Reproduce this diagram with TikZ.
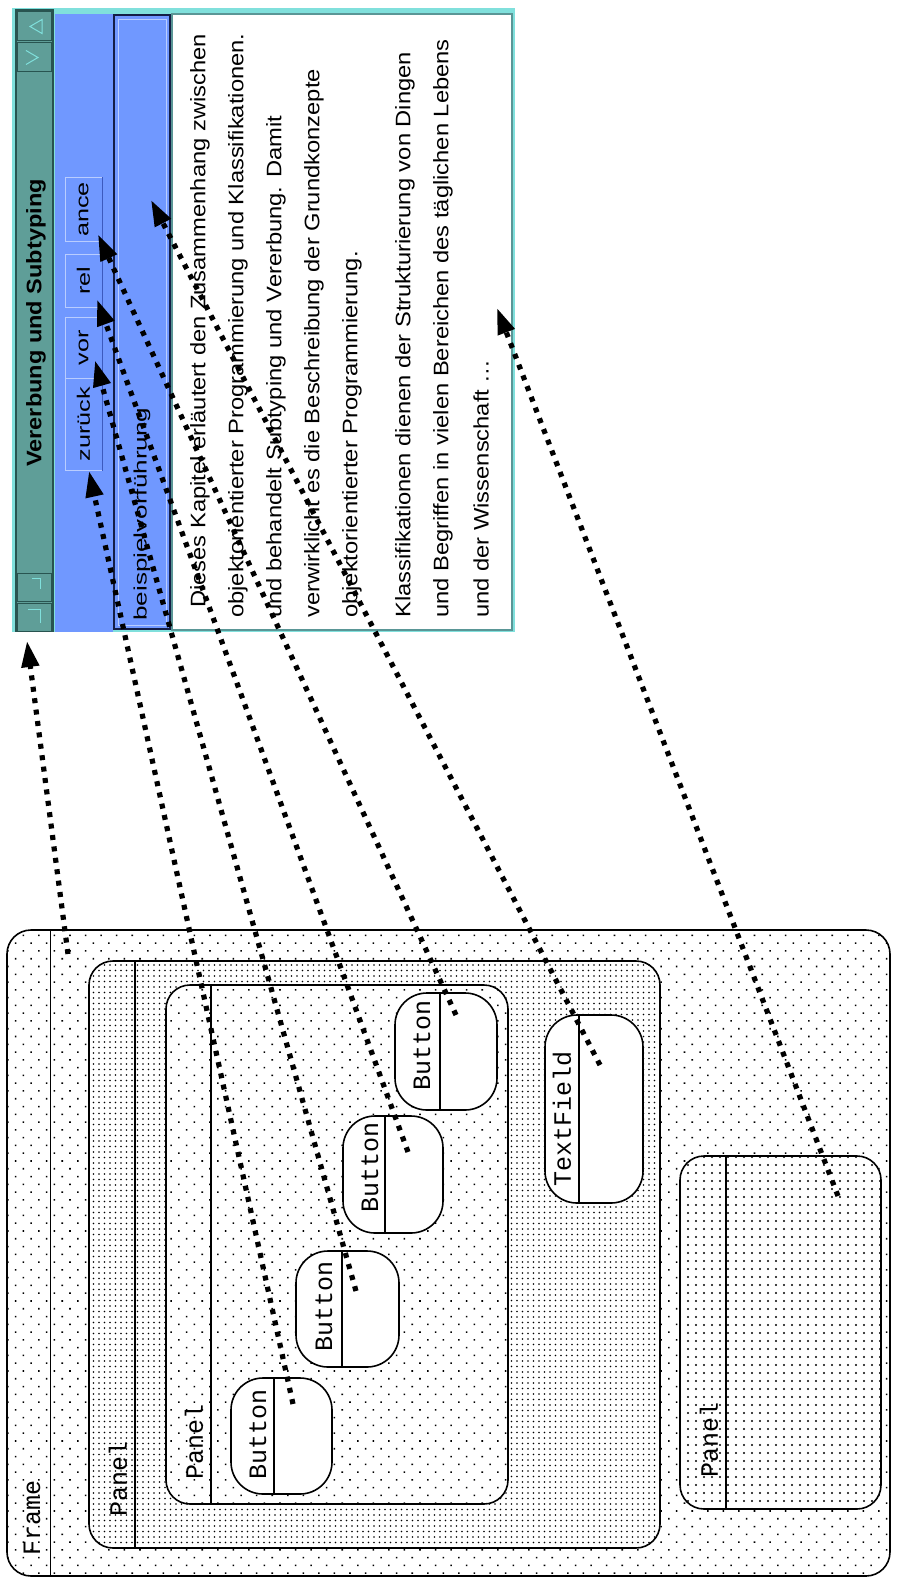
\documentclass[tikz,border=0pt]{standalone}
\usepackage{fontspec}
\setmainfont{Liberation Sans}
\setmonofont{Liberation Mono}
\usepackage{tikz}
\usetikzlibrary{arrows.meta, patterns.meta, positioning, calc}
\definecolor{colWinEdge}{RGB}{128,224,220}
\definecolor{colTitle}{RGB}{95,158,152}
\definecolor{colTitleDark}{RGB}{40,84,80}
\definecolor{colBlue}{RGB}{112,152,255}
\definecolor{colBtnLight}{RGB}{185,205,255}
\definecolor{colBtnDark}{RGB}{60,90,190}
\definecolor{colEdgeDark}{RGB}{20,30,70}
\definecolor{colAreaEdge}{RGB}{90,150,150}
\newcommand{\widetext}[2]{\scalebox{#1}[1]{#2}}
\tikzset{
  winpart/.style={
    rectangle, inner sep=0pt, outer sep=0pt, anchor=north west
  },
  winicon/.style={
    winpart, draw=colTitleDark, fill=colTitle, line width=1pt,
    minimum width=34pt
  },
  navbtn/.style={
    rectangle, rotate=90, draw=colBtnLight, line width=1pt,
    inner sep=0pt, minimum height=37pt,
    font=\fontsize{18}{18}\selectfont
  },
  para/.style={
    rotate=90, anchor=west, inner sep=0pt,
    font=\fontsize{21}{21}\selectfont
  },
  comp/.style={
    draw, line width=1.6pt, rounded corners=24pt, inner sep=0pt,
    outer sep=0pt, anchor=north west, preaction={fill=white}
  },
  compbtn/.style={
    comp, rounded corners=32pt, fill=white
  },
  sparsedots/.style={
    pattern={Dots[distance=11pt, angle=45, radius=1.1pt]}
  },
  densedots/.style={
    pattern={Dots[distance=5.5pt, radius=0.95pt]}
  },
  meddots/.style={
    pattern={Dots[distance=8pt, radius=1.05pt]}
  },
  strip/.style={line width=1.4pt},
  compname/.style={
    rotate=90, anchor=west, inner sep=0pt,
    font=\ttfamily\fontsize{25}{25}\selectfont
  },
  maps/.style={
    line width=5.2pt, dash pattern=on 5pt off 6.5pt,
    -{Triangle[length=26pt, width=17pt]}
  },
}

\begin{document}
\begin{tikzpicture}[x=1pt, y=-1pt]
\useasboundingbox (0,0) rectangle (900,1581);

% ── Window ──────────────────────────────────────────────────────────────
\node[winpart, fill=colWinEdge, minimum width=503pt, minimum height=624pt] (win) at (12,8) {};
\node[winpart, fill=colTitle, draw=colTitleDark, line width=1.2pt,
      minimum width=37pt, minimum height=621pt] (titlebar) at (16,10) {};

% title bar buttons
\node[winicon, minimum height=29pt] (icoMin) at (17,12) {};
\node[winicon, minimum height=29pt] (icoMax) at (17,43) {};
\node[winicon, minimum height=28pt] (icoA) at (17,573) {};
\node[winicon, minimum height=28pt] (icoB) at (17,603) {};
\draw[colWinEdge, line width=1pt] ($(icoMin.center)+(8,-7)$) -- ($(icoMin.center)+(-4,0)$) -- ($(icoMin.center)+(8,7)$) -- cycle;
\draw[colWinEdge, line width=1pt] ($(icoMax.center)+(-8,-7)$) -- ($(icoMax.center)+(4,0)$) -- ($(icoMax.center)+(-8,7)$);
\draw[colWinEdge, line width=1pt] ($(icoA.center)+(-2,-9)$) -- ($(icoA.center)+(6,-9)$) -- ($(icoA.center)+(6,2)$);
\draw[colWinEdge, line width=1pt] ($(icoB.center)+(-6,-8)$) -- ($(icoB.center)+(6,-8)$) -- ($(icoB.center)+(6,6)$);

\node[rotate=90, font=\bfseries\fontsize{21}{21}\selectfont] (wintitle) at (36,323) {\widetext{1.12}{Vererbung und Subtyping}};

% navigation panel
\node[winpart, fill=colBlue, minimum width=58pt, minimum height=618pt] (navpanel) at (55,14) {};
\node[navbtn, minimum width=92pt] (bZur)  at (83.5,424)   {\widetext{1.4}{zurück}};
\node[navbtn, minimum width=61pt] (bVor)  at (83.5,347.5) {\widetext{1.4}{vor}};
\node[navbtn, minimum width=53pt] (bRel)  at (83.5,280.5) {\widetext{1.4}{rel}};
\node[navbtn, minimum width=63pt] (bAnce) at (83.5,209.5) {\widetext{1.4}{ance}};
\draw[colBtnDark, line width=1pt] (bZur.south west) -- (bZur.south east);
\draw[colBtnDark, line width=1pt] (bVor.south west) -- (bVor.south east);
\draw[colBtnDark, line width=1pt] (bRel.south west) -- (bRel.south east);
\draw[colBtnDark, line width=1pt] (bAnce.south west) -- (bAnce.south east);

% short text field
\node[winpart, fill=colBlue, draw=colEdgeDark, line width=2.6pt,
      minimum width=56pt, minimum height=614pt] (shortfield) at (114,15) {};
\draw[colBtnLight, line width=0.8pt] ($(shortfield.north west)+(4,4)$) rectangle ($(shortfield.south east)+(-4,-4)$);
\node[rotate=90, anchor=west, inner sep=0pt, font=\fontsize{18}{18}\selectfont] (shortlabel) at (142,621) {\widetext{1.45}{beispielvorführung}};

% text area
\node[winpart, fill=white, draw=colAreaEdge, line width=1.2pt,
      minimum width=340pt, minimum height=616pt] (textarea) at (172,14) {};
\node[para] (line1) at (200,608) {\widetext{1.13}{Dieses Kapitel erläutert den Zusammenhang zwischen}};
\node[para] (line2) at (238,618) {\widetext{1.13}{objektorientierter Programmierung und Klassifikationen.}};
\node[para] (line3) at (276,618) {\widetext{1.13}{und behandelt Subtyping und Vererbung. Damit}};
\node[para] (line4) at (314,618) {\widetext{1.13}{verwirklicht es die Beschreibung der Grundkonzepte}};
\node[para] (line5) at (352,618) {\widetext{1.13}{objektorientierter Programmierung.}};
\node[para] (line6) at (405,618) {\widetext{1.13}{Klassifikationen dienen der Strukturierung von Dingen}};
\node[para] (line7) at (443,618) {\widetext{1.13}{und Begriffen in vielen Bereichen des täglichen Lebens}};
\node[para] (line8) at (481,618) {\widetext{1.13}{und der Wissenschaft \dots}};

% ── Component tree ──────────────────────────────────────────────────────
\node[comp, sparsedots, minimum width=883pt, minimum height=646pt] (frame) at (7,930) {};
\draw[strip] ($(frame.north west)+(43.5,0)$) -- ($(frame.south west)+(43.5,0)$);
\node[compname] (frameName) at ($(frame.south west)+(25,-20)$) {Frame};

\node[comp, densedots, minimum width=571pt, minimum height=587pt] (outerPanel) at (89,961) {};
\draw[strip] ($(outerPanel.north west)+(46,0)$) -- ($(outerPanel.south west)+(46,0)$);
\node[compname] (outerName) at ($(outerPanel.south west)+(29,-31)$) {Panel};

\node[comp, sparsedots, minimum width=342pt, minimum height=519pt] (innerPanel) at (166,985) {};
\draw[strip] ($(innerPanel.north west)+(45,0)$) -- ($(innerPanel.south west)+(45,0)$);
\node[compname] (innerName) at ($(innerPanel.south west)+(28,-24)$) {Panel};

\node[compbtn, minimum width=101pt, minimum height=116pt] (btnA) at (231,1378) {};
\draw[strip] ($(btnA.north west)+(43,0)$) -- ($(btnA.south west)+(43,0)$);
\node[compname] (btnAName) at ($(btnA.south west)+(27,-14)$) {Button};

\node[compbtn, minimum width=103pt, minimum height=116pt] (btnB) at (296,1251) {};
\draw[strip] ($(btnB.north west)+(46,0)$) -- ($(btnB.south west)+(46,0)$);
\node[compname] (btnBName) at ($(btnB.south west)+(28,-15)$) {Button};

\node[compbtn, minimum width=100pt, minimum height=117pt] (btnC) at (343,1116) {};
\draw[strip] ($(btnC.north west)+(42,0)$) -- ($(btnC.south west)+(42,0)$);
\node[compname] (btnCName) at ($(btnC.south west)+(27,-20)$) {Button};

\node[compbtn, minimum width=102pt, minimum height=117pt] (btnD) at (395,993) {};
\draw[strip] ($(btnD.north west)+(45,0)$) -- ($(btnD.south west)+(45,0)$);
\node[compname] (btnDName) at ($(btnD.south west)+(27,-19)$) {Button};

\node[compbtn, minimum width=98pt, minimum height=188pt] (textField) at (545,1015) {};
\draw[strip] ($(textField.north west)+(34,0)$) -- ($(textField.south west)+(34,0)$);
\node[compname] (textFieldName) at ($(textField.south west)+(17,-16)$) {TextField};

\node[comp, meddots, minimum width=201pt, minimum height=353pt] (rightPanel) at (680,1156) {};
\draw[strip] ($(rightPanel.north west)+(46,0)$) -- ($(rightPanel.south west)+(46,0)$);
\node[compname] (rightName) at ($(rightPanel.south west)+(29,-31)$) {Panel};

% ── Mapping arrows ──────────────────────────────────────────────────────
\coordinate (tFrame) at ($(frame.north west)+(61,24)$);
\coordinate (tBtnA)  at ($(btnA.north west)+(62,26)$);
\coordinate (tBtnB)  at ($(btnB.north west)+(60,40)$);
\coordinate (tBtnC)  at ($(btnC.north west)+(65,36)$);
\coordinate (tBtnD)  at ($(btnD.north west)+(61,22)$);
\coordinate (tField) at ($(textField.north west)+(55,50)$);
\coordinate (tPanel) at ($(rightPanel.north west)+(158,40)$);

\coordinate (hFrame) at ($(titlebar.south west)+(11,10)$);
\coordinate (hZur)   at ($(bZur.center)+(5.5,47)$);
\coordinate (hVor)   at ($(bVor.center)+(11.5,13)$);
\coordinate (hRel)   at ($(bRel.center)+(13.5,19)$);
\coordinate (hAnce)  at ($(bAnce.center)+(14.5,25)$);
\coordinate (hField) at ($(shortfield.north west)+(37,185)$);
\coordinate (hText)  at ($(textarea.north east)+(-15,294)$);

\draw[maps] (tFrame) -- (hFrame);
\draw[maps] (tBtnA) -- (hZur);
\draw[maps] (tBtnB) -- (hVor);
\draw[maps] (tBtnC) -- (hRel);
\draw[maps] (tBtnD) -- (hAnce);
\draw[maps] (tField) -- (hField);
\draw[maps] (tPanel) -- (hText);

\end{tikzpicture}
\end{document}
